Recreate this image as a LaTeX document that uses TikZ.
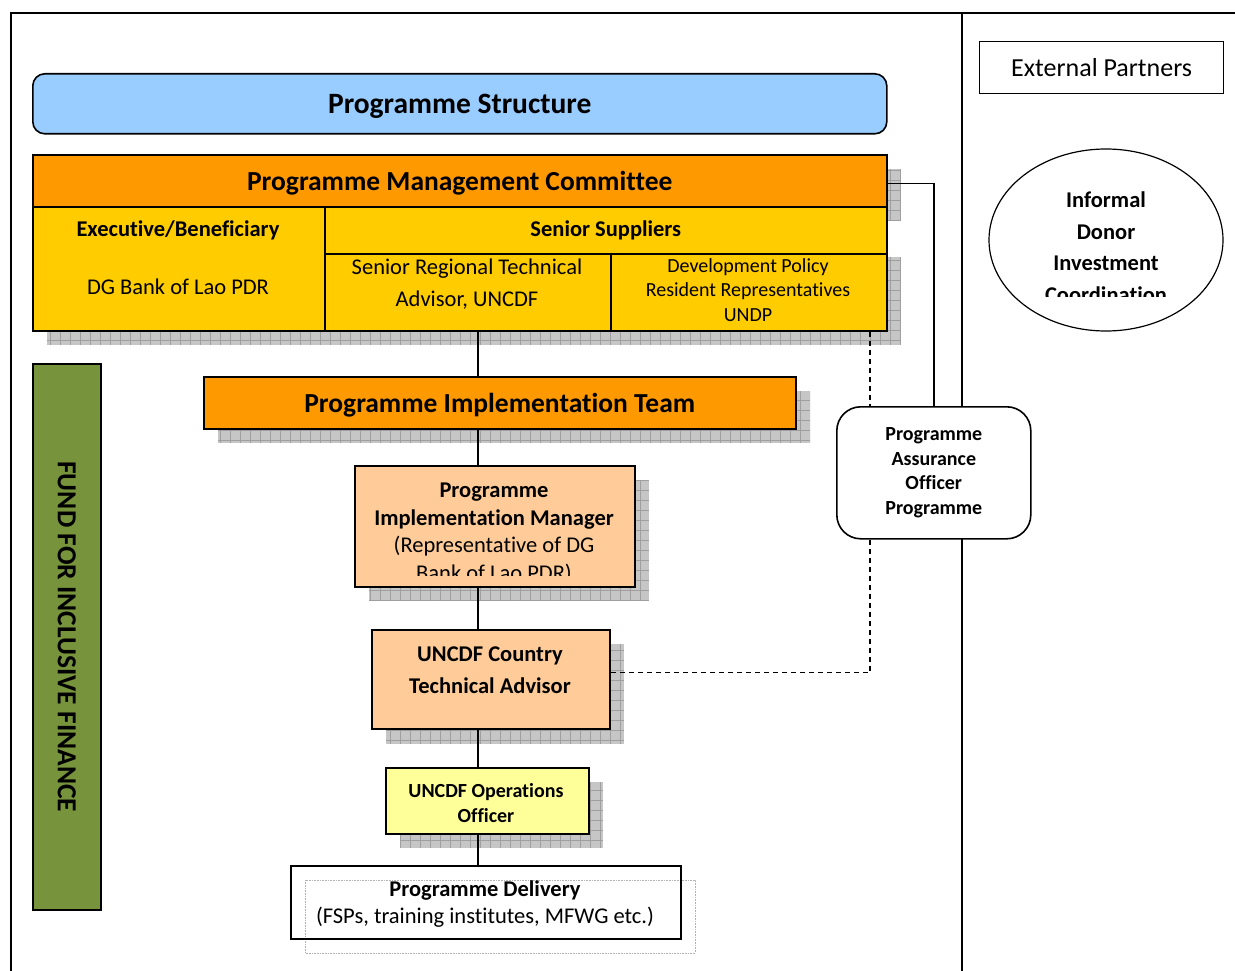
\documentclass[tikz,border=0pt]{standalone}
\usepackage{fontspec}
\setmainfont[Ligatures=NoCommon]{Carlito}
\usetikzlibrary{shapes.geometric}

\definecolor{structblue}{HTML}{99CCFF}
\definecolor{mgmtorange}{HTML}{FF9900}
\definecolor{gold}{HTML}{FFCC00}
\definecolor{peach}{HTML}{FFCC99}
\definecolor{opsyellow}{HTML}{FFFF99}
\definecolor{fundgreen}{HTML}{77933C}

\newcommand{\titlefont}{\fontsize{29.5}{35}\selectfont\bfseries}
\newcommand{\headfont}{\fontsize{27.5}{33}\selectfont\bfseries}
\newcommand{\midbold}{\fontsize{22.5}{27.5}\selectfont\bfseries}
\newcommand{\midfont}{\fontsize{22.5}{27.5}\selectfont}
\newcommand{\smallbold}{\fontsize{20}{24.5}\selectfont\bfseries}
\newcommand{\smallfont}{\fontsize{20}{24.5}\selectfont}

% grey chequered shadow behind a box
\newcommand{\gridshadow}[2]{%
  \fill[gray!45] #1 rectangle #2;
  \begin{scope}
    \clip #1 rectangle #2;
    \draw[gray!75, line width=0.5pt, step=10pt] #1 grid #2;
  \end{scope}}

\begin{document}
\begin{tikzpicture}[x=1pt, y=-1pt,
    frame/.style={line width=1.5pt},
    unit/.style={draw, line width=1.6pt, inner sep=0pt, anchor=north west, align=center},
    rounded unit/.style={unit, rounded corners=12pt},
    headline/.style={text depth=0pt},
    txt/.style={inner sep=0pt, align=center},
    link/.style={line width=1.2pt},
    advice/.style={line width=1.2pt, dash pattern=on 5pt off 4pt}]

  \useasboundingbox (0,0) rectangle (1235,971);

  % page frame
  \draw[frame] (1235,13) -- (11,13) -- (11,971);
  \draw[frame] (962,13) -- (962,971);

  % shadows
  \gridshadow{(47,169)}{(901,221)}
  \gridshadow{(47,257)}{(901,345)}
  \gridshadow{(218,391)}{(810,443)}
  \gridshadow{(369,480)}{(649,601)}
  \gridshadow{(386,644)}{(624,744)}
  \gridshadow{(400,782)}{(603,848)}
  \draw[gray!60, densely dotted, line width=0.6pt] (305,880) rectangle (695,953);

  \node[rounded unit, headline, fill=structblue, minimum width=854pt, minimum height=60pt, font=\titlefont] (structure) at (32,73) {Programme Structure};

  % management committee
  \node[unit, headline, fill=mgmtorange, minimum width=854pt, minimum height=52pt, font=\headfont] (pmc) at (32,154) {Programme Management Committee};
  \node[unit, fill=gold, minimum width=292pt, minimum height=124pt] (exec) at (32,206) {};
  \node[txt, font=\midbold] (exectitle) at (178,230) {Executive/Beneficiary};
  \node[txt, font=\midfont] (execname) at (178,287) {DG Bank of Lao PDR};
  \node[unit, fill=gold, minimum width=562pt, minimum height=47pt, font=\midbold] (supp) at (324,206) {Senior Suppliers};
  \node[unit, fill=gold, minimum width=286pt, minimum height=77pt] (srta) at (324,253) {};
  \node[txt, font={\fontsize{22.5}{32}\selectfont}] (srtatext) at (467,284) {Senior Regional Technical\\Advisor, UNCDF};
  \node[unit, fill=gold, minimum width=276pt, minimum height=77pt] (dpol) at (610,253) {};
  \node[txt, font=\smallfont] (dpoltext) at (748,290) {Development Policy\\Resident Representatives\\UNDP};

  \node[unit, headline, fill=mgmtorange, minimum width=592pt, minimum height=52pt, font=\headfont] (pit) at (203,376) {Programme Implementation Team};

  \node[unit, fill=peach, minimum width=280pt, minimum height=121pt] (pim) at (354,465) {};
  \begin{scope}
    \clip (354,466) rectangle (634,575);
    \node[txt, font=\midfont] (pimtext) at (494,533.5) {\textbf{Programme}\\\textbf{Implementation Manager}\\(Representative of DG\\Bank of Lao PDR)};
  \end{scope}

  \node[unit, fill=peach, minimum width=238pt, minimum height=99pt] (cta) at (371,629) {};
  \node[txt, font={\fontsize{22.5}{32}\selectfont\bfseries}] (ctatext) at (490,670) {UNCDF Country\\Technical Advisor};

  \node[unit, fill=opsyellow, minimum width=203pt, minimum height=66pt] (ops) at (385,767) {};
  \node[txt, font=\smallbold] (opstext) at (486,803) {UNCDF Operations\\Officer};
  \node[unit, minimum width=390pt, minimum height=73pt] (delivery) at (290,865) {};
  \node[txt, font=\midfont] (deliverytext) at (485,904) {\textbf{Programme Delivery}\\(FSPs, training institutes, MFWG etc.)};

  \node[unit, fill=fundgreen, minimum width=68pt, minimum height=546pt] (fund) at (32,363) {};
  \node[txt, font=\headfont, rotate=-90] (fundtext) at (fund.center) {FUND FOR INCLUSIVE FINANCE};

  % right hand side
  \node[rounded unit, rounded corners=24pt, fill=white, minimum width=194pt, minimum height=132pt, font=\smallbold] (assure) at (836,406) {Programme\\Assurance\\Officer\\Programme};
  \node[unit, line width=1.2pt, minimum width=244pt, minimum height=52pt, font={\fontsize{26}{31}\selectfont}] (external) at (979,41) {External Partners};
  \node[ellipse, draw, line width=1.2pt, minimum width=234pt, minimum height=182pt, inner sep=0pt] (donor) at (1106,240) {};
  \begin{scope}
    \clip (989,150) rectangle (1223,296);
    \node[txt, font={\fontsize{22.5}{31.5}\selectfont\bfseries}] (donortext) at (1106,247) {Informal\\Donor\\Investment\\Coordination};
  \end{scope}

  % connectors
  \coordinate (spine) at (478,0);
  \coordinate (sideline) at (934,0);
  \coordinate (dashline) at (870,0);
  \draw[link] (srta.south -| spine) -- (pit.north -| spine);
  \draw[link] (pit.south -| spine) -- (pim.north -| spine);
  \draw[link] (pim.south -| spine) -- (cta.north -| spine);
  \draw[link] (cta.south -| spine) -- (ops.north -| spine);
  \draw[link] (ops.south -| spine) -- (delivery.north -| spine);
  \draw[link] ([yshift=-3pt]pmc.east) -| (assure.north -| sideline);
  \draw[advice] (dpol.south -| dashline) -- (assure.north -| dashline);
  \draw[advice] (assure.south -| dashline) |- ([yshift=6.5pt]cta.east);
\end{tikzpicture}
\end{document}
